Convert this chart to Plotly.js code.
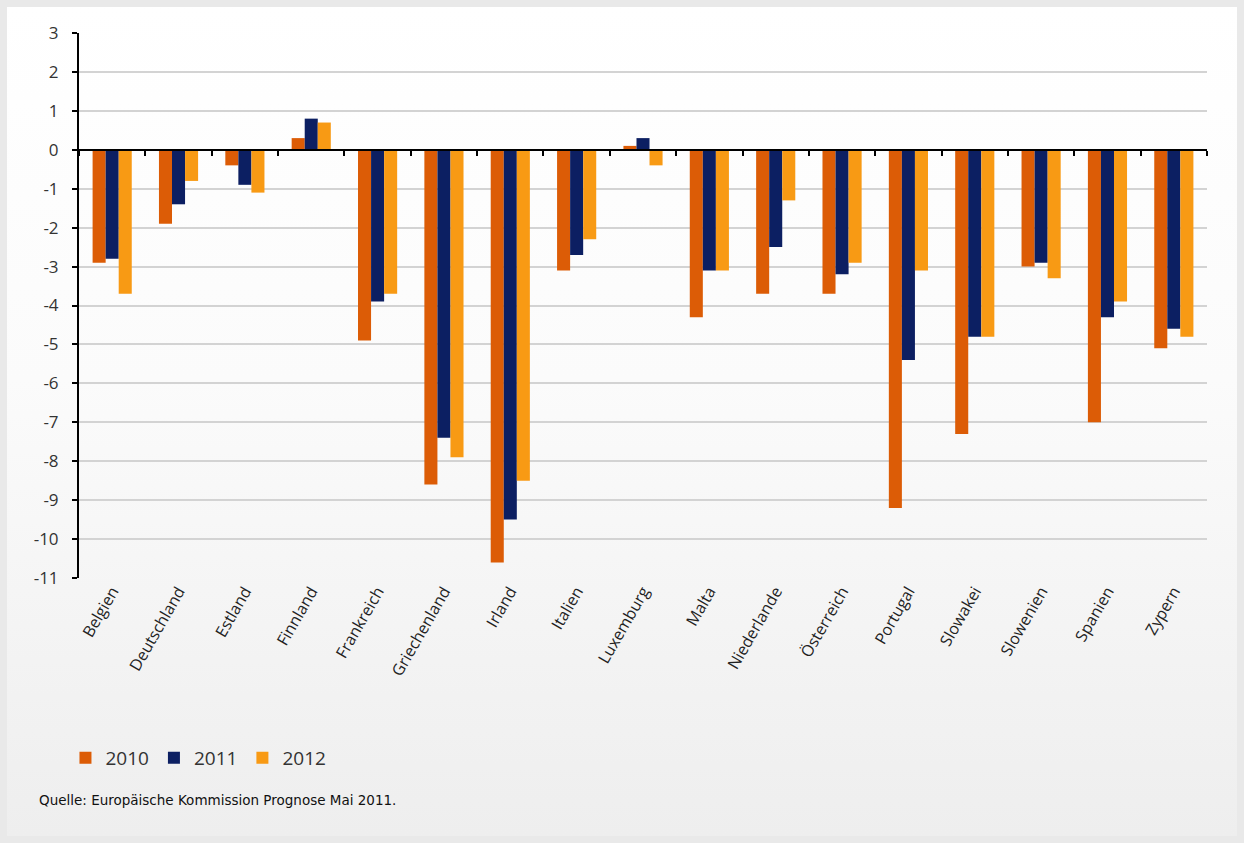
<!DOCTYPE html>
<html>
<head>
<meta charset="utf-8">
<script src="https://cdn.plot.ly/plotly-3.0.1.min.js"></script>
<style>
  html, body { margin: 0; padding: 0; background: #e9e9e9; }
  #wrap { position: relative; width: 1244px; height: 843px; overflow: hidden; background: #e9e9e9; }
  #bg { position: absolute; left: 7px; top: 7px; width: 1230px; height: 829px;
        background: linear-gradient(to bottom, #ffffff 0%, #fbfbfb 45%, #eeeeee 100%); }
  #chart { position: absolute; left: 0; top: 0; width: 1244px; height: 843px; }
</style>
</head>
<body>
<div id="wrap"><div id="bg"></div><div id="chart"></div></div>
<script>
const categories = ["Belgien","Deutschland","Estland","Finnland","Frankreich","Griechenland","Irland","Italien","Luxemburg","Malta","Niederlande","Österreich","Portugal","Slowakei","Slowenien","Spanien","Zypern"];
const seriesNames = ["2010","2011","2012"];
const values2010 = [-2.9,-1.9,-0.4,0.3,-4.9,-8.6,-10.6,-3.1,0.1,-4.3,-3.7,-3.7,-9.2,-7.3,-3.0,-7.0,-5.1];
const values2011 = [-2.8,-1.4,-0.9,0.8,-3.9,-7.4,-9.5,-2.7,0.3,-3.1,-2.5,-3.2,-5.4,-4.8,-2.9,-4.3,-4.6];
const values2012 = [-3.7,-0.8,-1.1,0.7,-3.7,-7.9,-8.5,-2.3,-0.4,-3.1,-1.3,-2.9,-3.1,-4.8,-3.3,-3.9,-4.8];
const yTicks = [3,2,1,0,-1,-2,-3,-4,-5,-6,-7,-8,-9,-10,-11];
const sourceText = "Quelle: Europäische Kommission Prognose Mai 2011.";

const colors = ["#dc5c06", "#0c1f62", "#f89a14"];
const font = "Open Sans, DejaVu Sans, sans-serif";

const data = [values2010, values2011, values2012].map((vals, i) => ({
  type: "bar", name: seriesNames[i], x: categories, y: vals,
  marker: { color: colors[i] }, hoverinfo: "x+y"
}));
// helper trace for the category axis drawn on the zero line
data.push({ type: "scatter", mode: "none", x: categories, y: categories.map(() => 0),
  xaxis: "x2", yaxis: "y", showlegend: false, hoverinfo: "skip" });

const yMin = -11, yMax = 3;

const layout = {
  width: 1244, height: 843,
  margin: { l: 79, r: 37, t: 33, b: 265 },
  paper_bgcolor: "rgba(0,0,0,0)", plot_bgcolor: "rgba(0,0,0,0)",
  font: { family: font, color: "#333333" },
  barmode: "group", bargap: 0.41, bargroupgap: 0,
  showlegend: true,
  legend: { orientation: "h", x: -0.012, y: -0.33, xanchor: "left", yanchor: "middle",
    font: { size: 19, color: "#333333", family: font }, itemwidth: 30,
    bgcolor: "rgba(0,0,0,0)", traceorder: "normal" },
  xaxis: { type: "category", categoryarray: categories, categoryorder: "array",
    tickangle: -60, tickfont: { size: 16, color: "#222222", family: font },
    showline: false, ticks: "", showgrid: false, zeroline: false, automargin: false },
  xaxis2: { type: "category", categoryarray: categories, categoryorder: "array",
    overlaying: "x", matches: "x", anchor: "free", position: (0 - yMin) / (yMax - yMin),
    side: "bottom", showline: true, linecolor: "#000000", linewidth: 2,
    ticks: "outside", tickson: "boundaries", ticklen: 5, tickwidth: 2, tickcolor: "#000000",
    showticklabels: false, showgrid: false, zeroline: false },
  yaxis: { range: [yMin, yMax], tickvals: yTicks, ticktext: yTicks.map(String),
    tickfont: { size: 17, color: "#333333", family: font }, ticklabelstandoff: 10,
    showline: true, linecolor: "#000000", linewidth: 2,
    ticks: "outside", ticklen: 5, tickwidth: 2, tickcolor: "#000000",
    gridcolor: "#d3d3d3", gridwidth: 1.5, zeroline: true, zerolinecolor: "#000000", zerolinewidth: 2,
    automargin: false },
  annotations: [{ text: sourceText, xref: "paper", yref: "paper", x: -0.037, y: -0.408,
    xanchor: "left", yanchor: "middle", showarrow: false,
    font: { size: 13.5, color: "#111111", family: "DejaVu Sans, sans-serif" } }]
};

Plotly.newPlot("chart", data, layout, { displayModeBar: false });
</script>
</body>
</html>
